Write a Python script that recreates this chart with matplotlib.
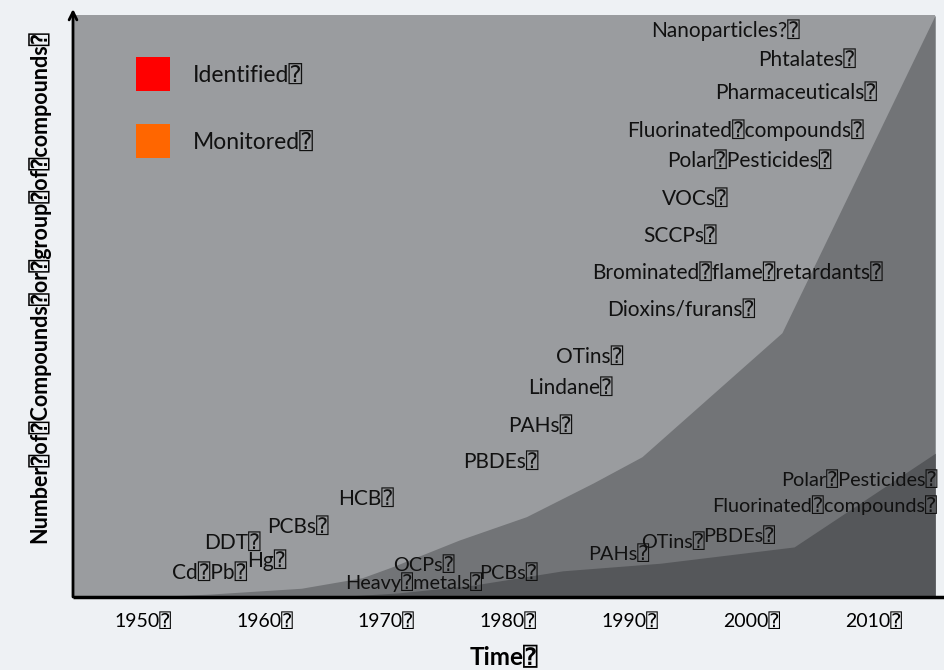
import matplotlib
matplotlib.use('Agg')
import matplotlib.pyplot as plt
from matplotlib.patches import Rectangle

B = '\u2370'
FAM = ['Lato', 'DejaVu Sans', 'DejaVu Sans Mono']
plt.rcParams['font.family'] = FAM

# ---- data ----
identified_years = [1950, 1955.5, 1963, 1968, 1970.5, 1976, 1981.5, 1987, 1991, 2002.5, 2015.1]
identified_values = [0, 0.5, 1.5, 3.3, 5.2, 9.8, 13.8, 19.6, 24.1, 45.4, 100]
monitored_years = [1965.5, 1971, 1977, 1984.5, 1992.5, 2003.5, 2015.1]
monitored_values = [0, 0.7, 2.0, 4.5, 5.8, 8.6, 24.7]

tick_years = [1950, 1960, 1970, 1980, 1990, 2000, 2010]
tick_labels = [f'{y}{B}' for y in tick_years]

identified_names = ['Nanoparticles?', 'Phtalates', 'Pharmaceuticals', 'Fluorinated compounds',
                    'Polar Pesticides', 'VOCs', 'SCCPs', 'Brominated flame retardants',
                    'Dioxins/furans', 'OTins', 'Lindane', 'PAHs', 'PBDEs', 'HCB', 'PCBs',
                    'DDT', 'Hg', 'Cd Pb']
identified_pos = [(1991.74, 96.2), (2000.53, 91.2), (1997.0, 85.6), (1989.77, 79.0),
                  (1993.06, 73.9), (1992.65, 67.4), (1991.08, 61.0), (1986.89, 54.6),
                  (1988.13, 48.3), (1983.94, 40.2), (1981.63, 34.9), (1979.99, 28.4),
                  (1976.29, 22.2), (1966.02, 15.8), (1960.19, 11.0), (1955.01, 8.2),
                  (1958.55, 5.15), (1952.38, 3.1)]
monitored_names = ['OCPs', 'Heavy metals', 'PCBs', 'PAHs', 'OTins', 'PBDEs',
                   'Fluorinated compounds', 'Polar Pesticides']
monitored_pos = [(1970.54, 4.5), (1966.6, 1.4), (1977.61, 3.1), (1986.57, 6.4),
                 (1990.92, 8.4), (1996.01, 9.5), (1996.75, 14.6), (2002.42, 19.1)]

legend_names = ['Identified', 'Monitored']
legend_colors = ['#ff0000', '#ff6600']


def boxed(s):
    return s.replace(' ', B) + B


W, H = 945, 670
fig = plt.figure(figsize=(W / 100, H / 100), dpi=100, facecolor='#eef1f4')
ax = fig.add_axes([73 / W, 1 - 597 / H, (935 - 73) / W, (597 - 15) / H])
ax.set_facecolor('#9a9c9f')
ax.fill_between(identified_years, identified_values, color='#727477', lw=0)
ax.fill_between(monitored_years, monitored_values, color='#55575a', lw=0)
ax.set_xlim(1944.25, 2015.08)
ax.set_ylim(0, 100)
for s in ax.spines.values():
    s.set_visible(False)
ax.set_xticks(tick_years, tick_labels, fontsize=14)
ax.tick_params(axis='x', length=0, pad=11)
ax.set_yticks([])

ax.set_xlabel('Time' + B, fontsize=17.5, fontweight='bold')
ax.xaxis.set_label_coords(0.5, -0.085)
ax.set_ylabel(boxed('Number of Compounds or group of compounds'), fontsize=15.5, fontweight='bold')
ax.yaxis.set_label_coords(-0.026, 0.534)

# axes lines
ax.plot([0, (945 - 73) / 862], [0, 0], transform=ax.transAxes, color='black', lw=2.5,
        clip_on=False, solid_capstyle='butt')
ax.annotate('', xy=(0, 1.0103), xytext=(0, 0), xycoords='axes fraction',
            arrowprops=dict(arrowstyle='->', lw=2, color='black', shrinkA=0, shrinkB=0,
                            mutation_scale=14), annotation_clip=False)

for name, (x, y) in zip(identified_names, identified_pos):
    ax.text(x, y, boxed(name), fontsize=15, color='#111111', ha='left', va='baseline')
for name, (x, y) in zip(monitored_names, monitored_pos):
    ax.text(x, y, boxed(name), fontsize=14.3, color='#111111', ha='left', va='baseline')

# legend
for i, (name, col) in enumerate(zip(legend_names, legend_colors)):
    top = 57 + i * 67
    fig.add_artist(Rectangle((136 / W, 1 - (top + 34) / H), 34 / W, 34 / H,
                             transform=fig.transFigure, facecolor=col, edgecolor='none'))
    fig.text(193 / W, 1 - (top + 26) / H, name + B, fontsize=16.5, color='#111111',
             ha='left', va='baseline')

fig.savefig('out.png', dpi=100, facecolor=fig.get_facecolor())
